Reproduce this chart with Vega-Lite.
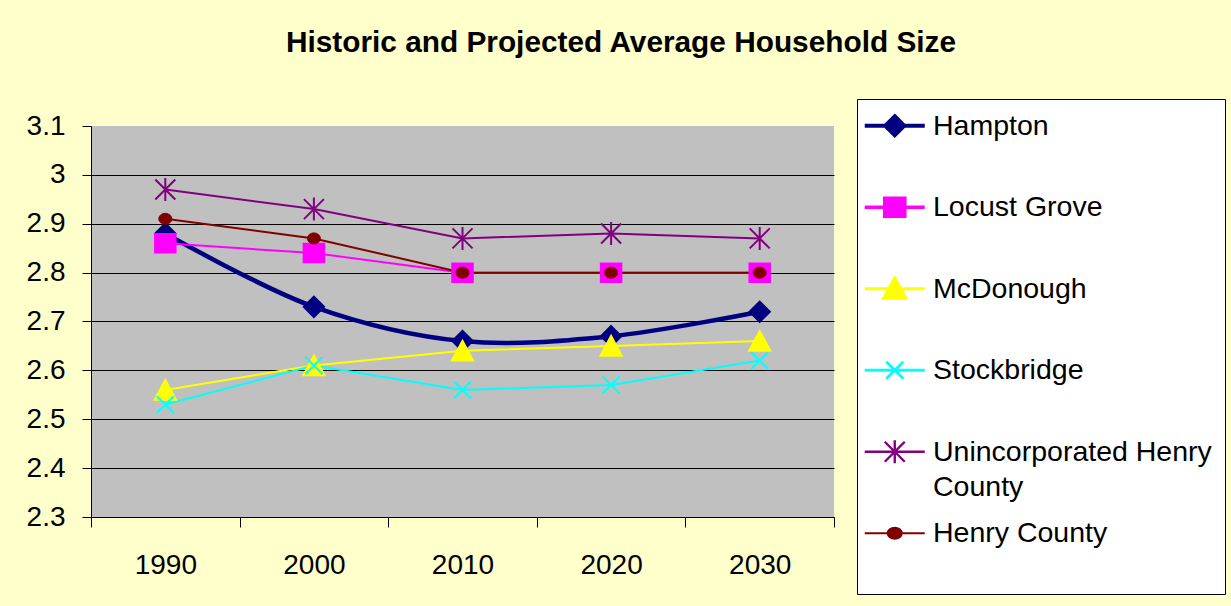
{
  "$schema": "https://vega.github.io/schema/vega-lite/v6.json",
  "width": 743,
  "height": 391,
  "autosize": {"type": "none"},
  "padding": {"left": 91, "top": 126, "right": 397, "bottom": 89},
  "background": "#FFFFCC",
  "config": {
    "view": {"fill": "#C0C0C0", "stroke": null},
    "font": "Liberation Sans",
    "style": {"guide-label": {"lineHeight": 35}}
  },
  "title": {
    "text": "Historic and Projected Average Household Size",
    "font": "Liberation Sans",
    "fontSize": 29.8,
    "fontWeight": "bold",
    "color": "black",
    "anchor": "middle",
    "frame": "group",
    "dx": 158.5,
    "offset": 17,
    "baseline": "alphabetic"
  },
  "data": {
    "values": [
      {"series": "Hampton", "year": "1990", "value": 2.88},
      {"series": "Hampton", "year": "2000", "value": 2.73},
      {"series": "Hampton", "year": "2010", "value": 2.66},
      {"series": "Hampton", "year": "2020", "value": 2.67},
      {"series": "Hampton", "year": "2030", "value": 2.72},
      {"series": "Locust Grove", "year": "1990", "value": 2.86},
      {"series": "Locust Grove", "year": "2000", "value": 2.84},
      {"series": "Locust Grove", "year": "2010", "value": 2.80},
      {"series": "Locust Grove", "year": "2020", "value": 2.80},
      {"series": "Locust Grove", "year": "2030", "value": 2.80},
      {"series": "McDonough", "year": "1990", "value": 2.56},
      {"series": "McDonough", "year": "2000", "value": 2.61},
      {"series": "McDonough", "year": "2010", "value": 2.64},
      {"series": "McDonough", "year": "2020", "value": 2.65},
      {"series": "McDonough", "year": "2030", "value": 2.66},
      {"series": "Stockbridge", "year": "1990", "value": 2.53},
      {"series": "Stockbridge", "year": "2000", "value": 2.61},
      {"series": "Stockbridge", "year": "2010", "value": 2.56},
      {"series": "Stockbridge", "year": "2020", "value": 2.57},
      {"series": "Stockbridge", "year": "2030", "value": 2.62},
      {"series": "Unincorporated Henry County", "year": "1990", "value": 2.97},
      {"series": "Unincorporated Henry County", "year": "2000", "value": 2.93},
      {"series": "Unincorporated Henry County", "year": "2010", "value": 2.87},
      {"series": "Unincorporated Henry County", "year": "2020", "value": 2.88},
      {"series": "Unincorporated Henry County", "year": "2030", "value": 2.87},
      {"series": "Henry County", "year": "1990", "value": 2.91},
      {"series": "Henry County", "year": "2000", "value": 2.87},
      {"series": "Henry County", "year": "2010", "value": 2.80},
      {"series": "Henry County", "year": "2020", "value": 2.80},
      {"series": "Henry County", "year": "2030", "value": 2.80}
    ]
  },
  "encoding": {
    "x": {
      "field": "year",
      "type": "ordinal",
      "bandPosition": 0.5,
      "scale": {"type": "band", "paddingInner": 0, "paddingOuter": 0},
      "axis": {
        "title": null,
        "labelAngle": 0,
        "labelFont": "Liberation Sans",
        "labelFontSize": 28,
        "labelColor": "black",
        "labelPadding": 24,
        "tickBand": "extent",
        "tickSize": 10,
        "tickColor": "black",
        "domainColor": "black",
        "grid": false
      }
    },
    "y": {
      "field": "value",
      "type": "quantitative",
      "scale": {"domain": [2.3, 3.1], "nice": false, "zero": false},
      "axis": {
        "title": null,
        "values": [2.3, 2.4, 2.5, 2.6, 2.7, 2.8, 2.9, 3.0, 3.1],
        "format": ".2~f",
        "labelFont": "Liberation Sans",
        "labelFontSize": 28,
        "labelColor": "black",
        "labelPadding": 17,
        "tickSize": 9,
        "tickColor": "black",
        "domainColor": "black",
        "grid": true,
        "gridColor": {"condition": {"test": "datum.value > 3.05", "value": "transparent"}, "value": "black"},
        "gridOpacity": 1
      }
    }
  },
  "layer": [
    {
      "transform": [{"filter": "datum.series === 'Hampton'"}],
      "mark": {"type": "line", "interpolate": "catmull-rom", "strokeWidth": 4.5},
      "encoding": {
        "stroke": {
          "field": "series",
          "type": "nominal",
          "scale": {
            "domain": ["Hampton", "Locust Grove", "McDonough", "Stockbridge", "Unincorporated Henry County", "Henry County"],
            "range": ["#000080", "#FF00FF", "#FFFF00", "#00FFFF", "#800080", "#800000"]
          }
        }
      }
    },
    {
      "transform": [{"filter": "datum.series !== 'Hampton'"}],
      "mark": {"type": "line", "strokeWidth": 2},
      "encoding": {"stroke": {"field": "series", "type": "nominal"}}
    },
    {
      "transform": [{"filter": "datum.series === 'Hampton'"}],
      "mark": {"type": "point", "shape": "M0,-1.05L1.05,0L0,1.05L-1.05,0Z", "size": 400, "filled": true, "fill": "#000080", "stroke": "#000080", "strokeWidth": 1.5, "opacity": 1}
    },
    {
      "transform": [{"filter": "datum.series === 'Locust Grove'"}],
      "mark": {"type": "point", "shape": "M-1.05,-0.95H1.05V0.95H-1.05Z", "size": 400, "filled": true, "fill": "#FF00FF", "stroke": "#FF00FF", "strokeWidth": 1.5, "opacity": 1}
    },
    {
      "transform": [{"filter": "datum.series === 'McDonough'"}],
      "mark": {"type": "point", "shape": "M0,-1.05L1.1,1L-1.1,1Z", "size": 400, "filled": true, "fill": "#FFFF00", "stroke": "#FFFF00", "strokeWidth": 1.5, "opacity": 1}
    },
    {
      "transform": [{"filter": "datum.series === 'Stockbridge'"}],
      "mark": {"type": "point", "shape": "M-0.85,-0.85L0.85,0.85M-0.85,0.85L0.85,-0.85", "size": 400, "filled": false, "stroke": "#00FFFF", "strokeWidth": 2, "opacity": 1}
    },
    {
      "transform": [{"filter": "datum.series === 'Unincorporated Henry County'"}],
      "mark": {"type": "point", "shape": "M-1,-1L1,1M-1,1L1,-1M0,-1.15V1.15", "size": 400, "filled": false, "stroke": "#800080", "strokeWidth": 2, "opacity": 1}
    },
    {
      "transform": [{"filter": "datum.series === 'Henry County'"}],
      "mark": {"type": "point", "shape": "M-0.65,0A0.65,0.55,0,1,1,0.65,0A0.65,0.55,0,1,1,-0.65,0Z", "size": 400, "filled": true, "fill": "#800000", "stroke": "#800000", "strokeWidth": 1, "opacity": 1}
    },
    {
      "transform": [{"filter": "datum.value < 0"}],
      "mark": {"type": "point", "filled": true, "opacity": 1, "fillOpacity": 1, "strokeOpacity": 1},
      "encoding": {
        "color": {
          "field": "series",
          "type": "nominal",
          "scale": {
            "domain": ["Hampton", "Locust Grove", "McDonough", "Stockbridge", "Unincorporated Henry County", "Henry County"],
            "range": ["#000080", "#FF00FF", "#FFFF00", "#00FFFF", "#800080", "#800000"]
          },
          "legend": {
            "title": " ",
            "titleOrient": "bottom",
            "titleFontSize": 10,
            "titlePadding": 24,
            "orient": "none",
            "legendX": 766,
            "legendY": -27,
            "padding": 12.5,
            "fillColor": "white",
            "strokeColor": "black",
            "symbolSize": 400,
            "symbolOpacity": 1,
            "symbolOffset": 11,
            "labelFont": "Liberation Sans",
            "labelFontSize": 28.5,
            "labelColor": "black",
            "labelLimit": 400,
            "labelOffset": 24,
            "rowPadding": 14.5,
            "gridAlign": "all",
            "labelExpr": "datum.label === 'Unincorporated Henry County' ? ['Unincorporated Henry', 'County'] : datum.label"
          }
        },
        "stroke": {"field": "series", "type": "nominal"},
        "shape": {
          "field": "series",
          "type": "nominal",
          "scale": {
            "domain": ["Hampton", "Locust Grove", "McDonough", "Stockbridge", "Unincorporated Henry County", "Henry County"],
            "range": [
              "M-3,0H3M0,-0.95L0.95,0L0,0.95L-0.95,0Z",
              "M-3,0H3M-1,-0.9H1V0.9H-1Z",
              "M-3,0H3M0,-1.05L1.1,0.95L-1.1,0.95Z",
              "M-3,0H3M-0.85,-0.85L0.85,0.85M-0.85,0.85L0.85,-0.85",
              "M-3,0H3M-1,-1L1,1M-1,1L1,-1M0,-1.15V1.15",
              "M-3,0H3M-0.7,0A0.7,0.55,0,1,1,0.7,0A0.7,0.55,0,1,1,-0.7,0Z"
            ]
          }
        },
        "strokeWidth": {
          "field": "series",
          "type": "nominal",
          "scale": {
            "domain": ["Hampton", "Locust Grove", "McDonough", "Stockbridge", "Unincorporated Henry County", "Henry County"],
            "range": [4, 2, 2, 2, 2, 2]
          }
        }
      }
    }
  ]
}
